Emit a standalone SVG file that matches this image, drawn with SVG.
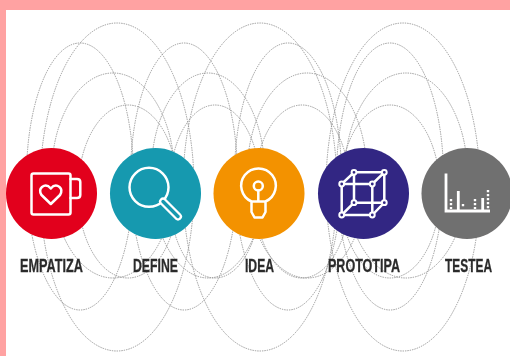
<svg xmlns="http://www.w3.org/2000/svg" width="510" height="356" viewBox="0 0 510 356">
<style>
.arc{fill:none;stroke:#8f8f8f;stroke-width:.9;stroke-dasharray:1.4 1}
.ic{fill:none;stroke:#fff;stroke-width:2.500;stroke-linejoin:round;stroke-linecap:round}
.dot{fill:none;stroke:#fff;stroke-width:2.400;stroke-dasharray:2.200 1.800}
.lb{font-family:"Liberation Sans",Arial,sans-serif;font-weight:700;font-size:19px;fill:#2b2b2b;stroke:#2b2b2b;stroke-width:.3;text-anchor:start}
</style>
<defs><filter id="s" x="-5%" y="-5%" width="110%" height="110%"><feGaussianBlur stdDeviation="0.4"/></filter></defs>
<rect width="510" height="356" fill="#fff"/>
<g filter="url(#s)">
<g id="connectors">
<ellipse class="arc" cx="117" cy="187" rx="77" ry="164"/>
<ellipse class="arc" cx="80" cy="176.500" rx="53.500" ry="133.500"/>
<ellipse class="arc" cx="113" cy="175.500" rx="61.500" ry="102.500"/>
<ellipse class="arc" cx="128" cy="191.500" rx="50" ry="86.500"/>
<ellipse class="arc" cx="260" cy="187" rx="77" ry="164"/>
<ellipse class="arc" cx="184" cy="176.500" rx="53.500" ry="133.500"/>
<ellipse class="arc" cx="208" cy="175.500" rx="57" ry="102.500"/>
<ellipse class="arc" cx="215" cy="191.500" rx="46" ry="86.500"/>
<ellipse class="arc" cx="288" cy="176.500" rx="53.500" ry="133.500"/>
<ellipse class="arc" cx="307" cy="175.500" rx="60" ry="102.500"/>
<ellipse class="arc" cx="302" cy="191.500" rx="48" ry="86.500"/>
<ellipse class="arc" cx="403" cy="187" rx="77" ry="164"/>
<ellipse class="arc" cx="390" cy="176.500" rx="53.500" ry="133.500"/>
<ellipse class="arc" cx="406" cy="175.500" rx="61.500" ry="102.500"/>
<ellipse class="arc" cx="390" cy="191.500" rx="50" ry="86.500"/>
</g>
<g id="empatiza">
<circle cx="51.500" cy="193.500" r="45.500" fill="#e2001a"/>
<rect class="ic" x="31.500" y="173.500" width="39" height="41" rx="2"/>
<path class="ic" d="M70.500 179H77Q80.300 179 80.300 182V195Q80.300 198 77 198H70.500"/>
<path class="ic" d="M50.800 204L41.500 195Q38.500 190 42 187Q46.500 183.500 50.800 188.500Q55 183.500 59.500 187Q63 190 60 195Z"/>
<text class="lb" x="20" y="272" textLength="63" lengthAdjust="spacingAndGlyphs">EMPATIZA</text>
</g>
<g id="define">
<circle cx="155.500" cy="193.500" r="45.500" fill="#1399af"/>
<circle class="ic" cx="149" cy="187.300" r="19.500"/>
<path d="M163 201.500L178 216.500" fill="none" stroke="#fff" stroke-width="8" stroke-linecap="round"/>
<path d="M163 201.500L178 216.500" fill="none" stroke="#1399af" stroke-width="3.400" stroke-linecap="round"/>
<text class="lb" x="133" y="272" textLength="45" lengthAdjust="spacingAndGlyphs">DEFINE</text>
</g>
<g id="idea">
<circle cx="259" cy="193.500" r="45.500" fill="#f39200"/>
<path class="ic" d="M251.500 201.500A17.300 17.300 0 1 1 265.500 201.500V212L262.500 217.500H254.500L251.500 212ZM251.500 201.500H265.500M258.300 190.500V201.500"/>
<circle class="ic" cx="258.300" cy="186" r="4.500"/>
<text class="lb" x="245" y="272" textLength="29" lengthAdjust="spacingAndGlyphs">IDEA</text>
</g>
<g id="prototipa">
<circle cx="363.500" cy="193.500" r="45.500" fill="#312783"/>
<path class="ic" d="M341.700 184H372.300V215H341.700ZM354 172.300H384.300V202.700H354ZM341.700 184L354 172.300M372.300 184L384.300 172.300M372.300 215L384.300 202.700M341.700 215L354 202.700"/>
<g fill="#312783" stroke="#fff" stroke-width="2">
<circle cx="341.700" cy="184" r="2.400"/><circle cx="372.300" cy="184" r="2.400"/><circle cx="372.300" cy="215" r="2.400"/><circle cx="341.700" cy="215" r="2.400"/>
<circle cx="354" cy="172.300" r="2.400"/><circle cx="384.300" cy="172.300" r="2.400"/><circle cx="384.300" cy="202.700" r="2.400"/><circle cx="354" cy="202.700" r="2.400"/>
</g>
<text class="lb" x="328" y="272" textLength="72" lengthAdjust="spacingAndGlyphs">PROTOTIPA</text>
</g>
<g id="testea">
<circle cx="467" cy="193.500" r="45.500" fill="#706f6f"/>
<path d="M446 173.500V211H490" fill="none" stroke="#fff" stroke-width="2.800"/>
<path d="M458.300 191V211M482.700 198V211" fill="none" stroke="#fff" stroke-width="2.800"/>
<path class="dot" d="M451 199V209M463 204V208M475 199V209M488 190V209"/>
<text class="lb" x="445" y="272" textLength="47" lengthAdjust="spacingAndGlyphs">TESTEA</text>
</g>
</g>
<rect x="0" y="0" width="510" height="10" fill="#ffa2a2"/>
<rect x="0" y="0" width="6" height="356" fill="#ffa2a2"/>
</svg>
